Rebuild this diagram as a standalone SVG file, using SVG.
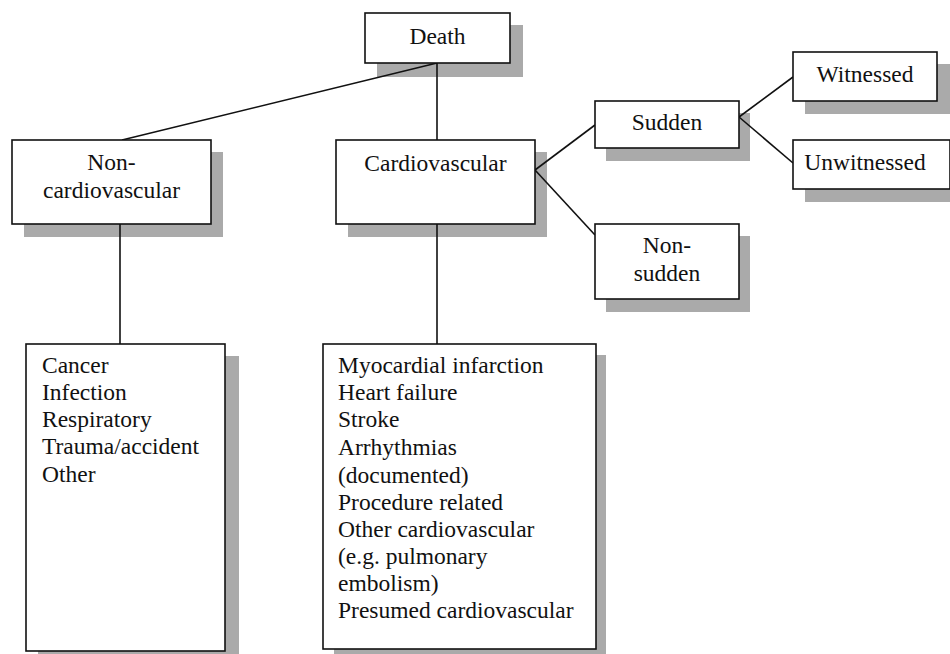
<svg xmlns="http://www.w3.org/2000/svg" width="950" height="654" viewBox="0 0 950 654">
<style>
.box{fill:#fff;stroke:#111;stroke-width:1.6}
.sh{fill:#aaa}
text{font-family:'Liberation Serif','Times New Roman','DejaVu Serif','Noto Serif',serif;font-size:23.5px;fill:#111}
.c{text-anchor:middle}
.ln{stroke:#111;stroke-width:1.6;fill:none}
</style>
<rect width="950" height="654" fill="#fff"/>
<g id="shadows">
<rect class="sh" x="377" y="25" width="146" height="52"/>
<rect class="sh" x="24" y="152" width="199" height="85"/>
<rect class="sh" x="348" y="152" width="199" height="85"/>
<rect class="sh" x="606" y="113" width="144" height="48"/>
<rect class="sh" x="606" y="236" width="144" height="76"/>
<rect class="sh" x="805" y="64" width="145" height="50"/>
<rect class="sh" x="805" y="152" width="145" height="50"/>
<rect class="sh" x="38" y="356" width="201" height="300"/>
<rect class="sh" x="334" y="355" width="272" height="300"/>
</g>
<g id="connectors">
<line class="ln" x1="437" y1="63" x2="122" y2="140"/>
<line class="ln" x1="437" y1="63" x2="437" y2="140"/>
<line class="ln" x1="535" y1="170" x2="595" y2="125"/>
<line class="ln" x1="535" y1="170" x2="595" y2="235"/>
<line class="ln" x1="739" y1="117" x2="793" y2="77"/>
<line class="ln" x1="739" y1="117" x2="793" y2="163"/>
<line class="ln" x1="120" y1="224" x2="120" y2="344"/>
<line class="ln" x1="437" y1="224" x2="437" y2="344"/>
</g>
<g id="death">
<rect class="box" x="365" y="13" width="145" height="50"/>
<text class="c" x="437.5" y="44">Death</text>
</g>
<g id="noncardio">
<rect class="box" x="12" y="140" width="199" height="84"/>
<text class="c" x="111.5" y="170">Non-</text>
<text class="c" x="111.5" y="198">cardiovascular</text>
</g>
<g id="cardio">
<rect class="box" x="336" y="140" width="199" height="84"/>
<text class="c" x="435.5" y="171">Cardiovascular</text>
</g>
<g id="sudden">
<rect class="box" x="595" y="101" width="144" height="47"/>
<text class="c" x="667" y="130">Sudden</text>
</g>
<g id="nonsudden">
<rect class="box" x="595" y="224" width="144" height="75"/>
<text class="c" x="667" y="253">Non-</text>
<text class="c" x="667" y="281">sudden</text>
</g>
<g id="witnessed">
<rect class="box" x="793" y="52" width="144" height="49"/>
<text class="c" x="865" y="82">Witnessed</text>
</g>
<g id="unwitnessed">
<rect class="box" x="793" y="140" width="157" height="49"/>
<text class="c" x="865" y="170">Unwitnessed</text>
</g>
<g id="noncardio-list">
<rect class="box" x="26" y="344" width="199" height="307"/>
<text x="42" y="373">Cancer</text>
<text x="42" y="400">Infection</text>
<text x="42" y="427">Respiratory</text>
<text x="42" y="454">Trauma/accident</text>
<text x="42" y="482">Other</text>
</g>
<g id="cardio-list">
<rect class="box" x="323" y="344" width="273" height="305"/>
<text x="338" y="373">Myocardial infarction</text>
<text x="338" y="400">Heart failure</text>
<text x="338" y="427">Stroke</text>
<text x="338" y="455">Arrhythmias</text>
<text x="338" y="483">(documented)</text>
<text x="338" y="510">Procedure related</text>
<text x="338" y="537">Other cardiovascular</text>
<text x="338" y="564">(e.g. pulmonary</text>
<text x="338" y="591">embolism)</text>
<text x="338" y="618">Presumed cardiovascular</text>
</g>
</svg>
